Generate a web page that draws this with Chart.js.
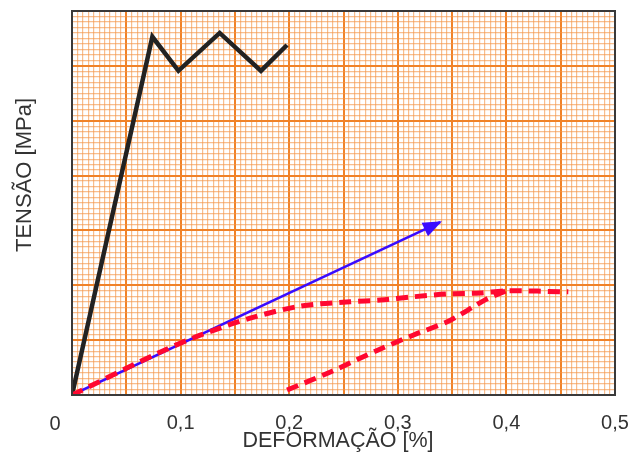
<!DOCTYPE html>
<html>
<head>
<meta charset="utf-8">
<script src="https://cdn.jsdelivr.net/npm/chart.js@4/dist/chart.umd.min.js"></script>
<style>
  html, body { margin: 0; padding: 0; background: #fff; }
</style>
</head>
<body>
<canvas id="myChart" width="633" height="452"></canvas>
<script>
// x in %, y in grid units (no tension scale printed on the original)
const blackX = [0, 0.074, 0.098, 0.136, 0.174, 0.198];
const blackY = [0, 65.3, 59.1, 66.0, 59.1, 63.8];

const blueX = [0, 0.339];
const blueY = [0, 31.5];

const redUpperX = [0, 0.081, 0.118, 0.164, 0.210, 0.256, 0.284, 0.314, 0.345, 0.376, 0.400, 0.457];
const redUpperY = [0, 7.8, 10.9, 14.0, 16.2, 17.0, 17.3, 17.9, 18.4, 18.6, 19.0, 18.8];

const redLowerX = [0.198, 0.238, 0.284, 0.314, 0.345, 0.357, 0.369, 0.382, 0.400];
const redLowerY = [0.9, 4.2, 8.4, 10.9, 13.3, 14.6, 16.0, 17.5, 19.0];

const xLabels = ['0', '0,1', '0,2', '0,3', '0,4', '0,5'];
const xTitle = 'DEFORMAÇÃO [%]';
const yTitle = 'TENSÃO [MPa]';

const BLUE = '#3a0cff';
const RED = '#ff0830';
const FONT = '"Liberation Sans", Arial, sans-serif';

function toPoints(xs, ys) {
    return xs.map(function (x, i) { return { x: x, y: ys[i] }; });
}

// graph paper look: light orange every minor step, darker every 10
function gridColor(ctx, major) {
    return ctx.tick && Math.round(ctx.tick.value * major.k) % major.m === 0 ? '#f08228' : 'rgba(244,150,72,0.62)';
}
function gridWidth(ctx, major) {
    return ctx.tick && Math.round(ctx.tick.value * major.k) % major.m === 0 ? 2 : 1.2;
}

const paperPlugin = {
    id: 'paper',
    afterDatasetsDraw(chart) {
        const ctx = chart.ctx;
        // arrow head at the end of the blue line
        const pts = chart.getDatasetMeta(2).data;
        const a = pts[pts.length - 2], b = pts[pts.length - 1];
        const ang = Math.atan2(b.y - a.y, b.x - a.x);
        ctx.save();
        ctx.translate(b.x, b.y);
        ctx.rotate(ang);
        ctx.beginPath();
        ctx.moveTo(2, 0);
        ctx.lineTo(-17, -7.5);
        ctx.lineTo(-17, 7.5);
        ctx.closePath();
        ctx.fillStyle = BLUE;
        ctx.fill();
        ctx.restore();
    },
    afterDraw(chart) {
        const ctx = chart.ctx;
        const area = chart.chartArea;
        ctx.save();
        ctx.strokeStyle = '#3a3a3a';
        ctx.lineWidth = 2;
        ctx.strokeRect(area.left, area.top, area.right - area.left, area.bottom - area.top);

        ctx.fillStyle = '#333';
        ctx.textAlign = 'center';
        ctx.textBaseline = 'middle';
        ctx.font = '20px ' + FONT;
        // the "0" sits a bit left of the axis origin on the original
        ctx.fillText(xLabels[0], area.left - 17, 424);
        ctx.font = '21.5px ' + FONT;
        ctx.fillText(xTitle, 338, 441);
        ctx.translate(25, 175);
        ctx.rotate(-Math.PI / 2);
        ctx.font = '22px ' + FONT;
        ctx.fillText(yTitle, 0, 0);
        ctx.restore();
    }
};

let ctx = document.getElementById('myChart').getContext('2d');
let myChart = new Chart(ctx, {
    type: 'line',
    data: {
        datasets: [
            {
                data: toPoints(redUpperX, redUpperY),
                borderColor: RED, borderWidth: 5, borderDash: [12, 7],
                pointRadius: 0, tension: 0.3
            },
            {
                data: toPoints(redLowerX, redLowerY),
                borderColor: RED, borderWidth: 5, borderDash: [12, 7],
                pointRadius: 0, tension: 0.3
            },
            {
                data: toPoints(blueX, blueY),
                borderColor: BLUE, borderWidth: 2.5,
                pointRadius: 0
            },
            {
                data: toPoints(blackX, blackY),
                borderColor: '#222', borderWidth: 4.5, borderJoinStyle: 'miter',
                pointRadius: 0
            }
        ]
    },
    plugins: [paperPlugin],
    options: {
        responsive: false,
        animation: false,
        layout: { padding: { top: 11, right: 18, left: 0, bottom: 0 } },
        plugins: { legend: { display: false }, tooltip: { enabled: false } },
        scales: {
            x: {
                type: 'linear', min: 0, max: 0.5,
                afterFit: function (scale) {
                    scale.height = 57;
                    scale.paddingLeft = 0;
                    scale.paddingRight = 0;
                },
                border: { display: false },
                grid: {
                    drawTicks: false,
                    color: function (c) { return gridColor(c, { k: 1000, m: 50 }); },
                    lineWidth: function (c) { return gridWidth(c, { k: 1000, m: 50 }); }
                },
                ticks: {
                    stepSize: 0.005, maxTicksLimit: 200, autoSkip: false,
                    maxRotation: 0, padding: 16, color: '#333',
                    font: { size: 20, family: FONT },
                    callback: function (v) {
                        let k = Math.round(v * 1000);
                        if (k === 0 || k % 100 !== 0) return '';
                        return xLabels[k / 100];
                    }
                },
                title: { display: false }
            },
            y: {
                type: 'linear', min: 0, max: 70,
                afterFit: function (scale) { scale.width = 72; },
                border: { display: false },
                grid: {
                    drawTicks: false,
                    color: function (c) { return gridColor(c, { k: 1, m: 10 }); },
                    lineWidth: function (c) { return gridWidth(c, { k: 1, m: 10 }); }
                },
                ticks: { display: false, stepSize: 1, maxTicksLimit: 200 },
                title: { display: false }
            }
        }
    }
});
</script>
</body>
</html>
